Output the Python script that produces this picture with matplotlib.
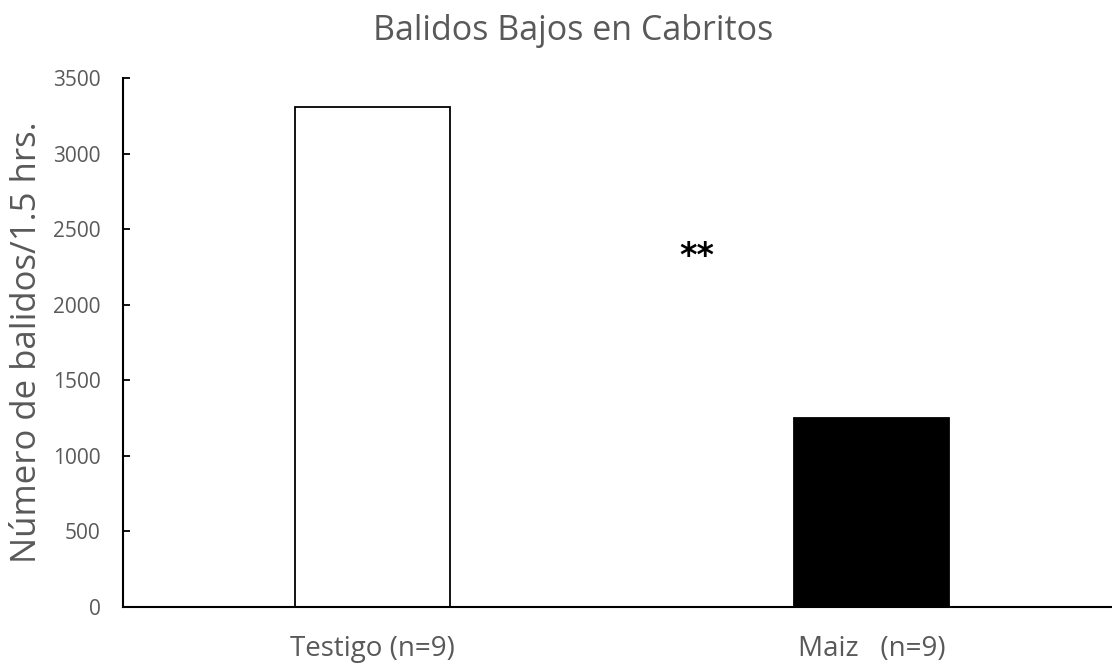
import numpy as np
import matplotlib.pyplot as plt

categories = ["Testigo (n=9)", "Maiz   (n=9)"]
values = [3310, 1250]
bar_colors = ["white", "black"]
yticks = [0, 500, 1000, 1500, 2000, 2500, 3000, 3500]

plt.rcParams["font.family"] = ["Open Sans", "DejaVu Sans"]
gray = "#595959"

fig = plt.figure(figsize=(11.12, 6.66), dpi=100)
ax = fig.add_axes([123 / 1112, 59 / 666, 989 / 1112, 529 / 666])

x = np.arange(len(categories))
ax.bar(x, values, width=0.312, color=bar_colors, edgecolor="black", linewidth=1.3, zorder=2)

ax.set_xlim(-0.5, 1.482)
ax.set_ylim(0, 3500)
ax.set_yticks(yticks)
ax.set_xticks(x)
ax.set_xticklabels(categories)
ax.tick_params(axis="x", length=0, pad=20, labelsize=20, labelcolor=gray)
ax.tick_params(axis="y", length=5, width=1.3, direction="in", pad=16, labelsize=15, labelcolor=gray)

for s in ["top", "right"]:
    ax.spines[s].set_visible(False)
ax.spines["left"].set_linewidth(1.5)
ax.spines["bottom"].set_linewidth(1.5)

ax.set_ylabel("Número de balidos/1.5 hrs.", fontsize=25, color=gray)
ax.yaxis.set_label_coords(-(123 - 44) / 989, 0.5)
fig.text(573 / 1112, 1 - 31 / 666, "Balidos Bajos en Cabritos", ha="center", va="center", fontsize=24.5, color=gray)

ax.text(0.65, 2320, "**", ha="center", va="center", fontsize=24, fontweight="bold",
        color="black", family="DejaVu Sans")

fig.savefig("out.png", dpi=100)
